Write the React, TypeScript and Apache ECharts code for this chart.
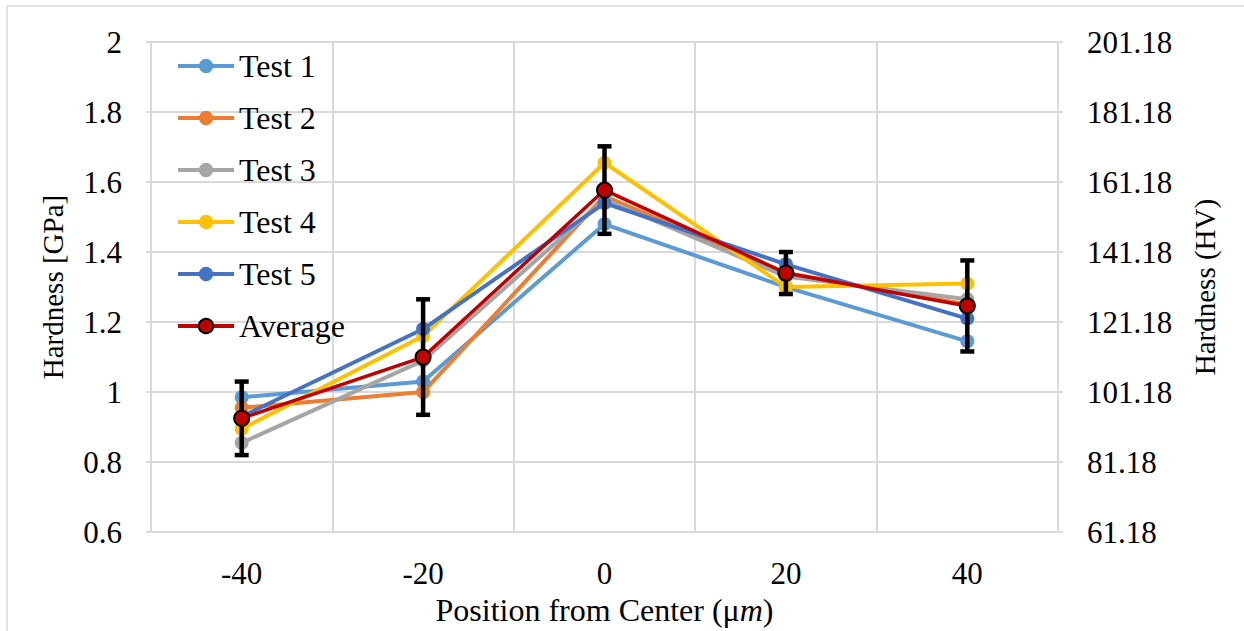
import React, { useEffect, useRef } from "react";
import * as echarts from "echarts";

// Indentation positions (µm from the center)
const positions = ["-40", "-20", "0", "20", "40"];

// Hardness per test, GPa
const test1 = [0.985, 1.03, 1.48, 1.3, 1.145];
const test2 = [0.955, 1.0, 1.56, 1.34, 1.25];
const test3 = [0.855, 1.09, 1.55, 1.33, 1.265];
const test4 = [0.895, 1.16, 1.655, 1.3, 1.31];
const test5 = [0.93, 1.18, 1.54, 1.365, 1.21];

// Mean hardness and its ± error, GPa
const average = [0.925, 1.1, 1.577, 1.34, 1.246];
const averageError = [0.105, 0.165, 0.125, 0.06, 0.13];

// Vickers scale offset used for the secondary axis labels
const hvOffset = 61.18;

const FONT = "Liberation Serif, Times New Roman, serif";
const GRID = "#D9D9D9";

const testSeries = [
  { name: "Test 1", data: test1, color: "#5B9BD5" },
  { name: "Test 2", data: test2, color: "#ED7D31" },
  { name: "Test 3", data: test3, color: "#A5A5A5" },
  { name: "Test 4", data: test4, color: "#FFC000" },
  { name: "Test 5", data: test5, color: "#4472C4" },
];

export default function App() {
  const ref = useRef<HTMLDivElement>(null);

  useEffect(() => {
    if (!ref.current) return;
    const chart = echarts.init(ref.current, undefined, { renderer: "svg" });

    const errorData = average.map((v, i) => [i, v, v - averageError[i], v + averageError[i]]);

    chart.setOption({
      animation: false,
      backgroundColor: "#fff",
      textStyle: { fontFamily: FONT },
      graphic: [
        {
          type: "rect",
          shape: { x: 7, y: 6, width: 1250, height: 640 },
          style: { fill: "none", stroke: GRID, lineWidth: 1.5 },
          silent: true,
        },
      ],
      grid: { left: 151, right: 186, top: 42, bottom: 86 },
      legend: {
        orient: "vertical",
        left: 176,
        top: 50,
        padding: 0,
        itemWidth: 56,
        itemHeight: 18,
        itemGap: 20,
        lineStyle: { width: 4 },
        data: [...testSeries.map((s) => s.name), "Average"],
        textStyle: { fontFamily: FONT, fontSize: 32, color: "#000", lineHeight: 32 },
      },
      xAxis: {
        type: "category",
        data: positions,
        boundaryGap: true,
        axisLine: { lineStyle: { color: GRID, width: 2 } },
        axisTick: { show: false },
        splitLine: { show: true, lineStyle: { color: GRID, width: 2 } },
        axisLabel: { fontFamily: FONT, fontSize: 31, color: "#000", margin: 26 },
        name: "{a|Position from Center (μ}{b|m}{a|)}",
        nameLocation: "middle",
        nameGap: 55,
        nameTextStyle: {
          rich: {
            a: { fontFamily: FONT, fontSize: 32, color: "#000" },
            b: { fontFamily: FONT, fontSize: 32, color: "#000", fontStyle: "italic" },
          },
        },
      },
      yAxis: [
        {
          type: "value",
          min: 0.6,
          max: 2,
          interval: 0.2,
          axisLine: { show: true, lineStyle: { color: GRID, width: 2 } },
          axisTick: { show: true, length: 5, lineStyle: { color: GRID, width: 2 } },
          splitLine: { show: true, lineStyle: { color: GRID, width: 2 } },
          axisLabel: {
            fontFamily: FONT,
            fontSize: 31,
            color: "#000",
            margin: 29,
            formatter: (v: number) => String(+v.toFixed(1)),
          },
          name: "Hardness [GPa]",
          nameLocation: "middle",
          nameGap: 84,
          nameTextStyle: { fontFamily: FONT, fontSize: 29, color: "#000" },
        },
        {
          type: "value",
          min: 0,
          max: 140,
          interval: 20,
          position: "right",
          axisLine: { show: true, lineStyle: { color: GRID, width: 2 } },
          axisTick: { show: true, length: 5, lineStyle: { color: GRID, width: 2 } },
          splitLine: { show: false },
          axisLabel: {
            fontFamily: FONT,
            fontSize: 31,
            color: "#000",
            margin: 29,
            formatter: (v: number) => (v + hvOffset).toFixed(2),
          },
          name: "Hardness (HV)",
          nameLocation: "middle",
          nameGap: 132,
          nameTextStyle: { fontFamily: FONT, fontSize: 29, color: "#000" },
        },
      ],
      series: [
        ...testSeries.map((s) => ({
          name: s.name,
          type: "line",
          data: s.data,
          yAxisIndex: 0,
          symbol: "circle",
          symbolSize: 14,
          z: 2,
          lineStyle: { color: s.color, width: 4 },
          itemStyle: { color: s.color },
        })),
        {
          name: "Average error",
          type: "custom",
          yAxisIndex: 0,
          z: 3,
          data: errorData,
          renderItem: (_params: any, api: any) => {
            const idx = api.value(0);
            const lo = api.coord([idx, api.value(2)]);
            const hi = api.coord([idx, api.value(3)]);
            const half = 7;
            const style = { stroke: "#000", lineWidth: 4.5 };
            return {
              type: "group",
              children: [
                { type: "line", shape: { x1: hi[0], y1: hi[1], x2: lo[0], y2: lo[1] }, style },
                { type: "line", shape: { x1: hi[0] - half, y1: hi[1], x2: hi[0] + half, y2: hi[1] }, style },
                { type: "line", shape: { x1: lo[0] - half, y1: lo[1], x2: lo[0] + half, y2: lo[1] }, style },
              ],
            };
          },
        },
        {
          name: "Average",
          type: "line",
          data: average,
          yAxisIndex: 0,
          symbol: "circle",
          symbolSize: 15,
          z: 4,
          lineStyle: { color: "#C00000", width: 3.5 },
          itemStyle: { color: "#C00000", borderColor: "#000", borderWidth: 2 },
        },
      ],
    });

    return () => chart.dispose();
  }, []);

  return (
    <div
      ref={ref}
      style={{ position: "fixed", left: 0, top: 0, width: 1244, height: 631 }}
    />
  );
}
